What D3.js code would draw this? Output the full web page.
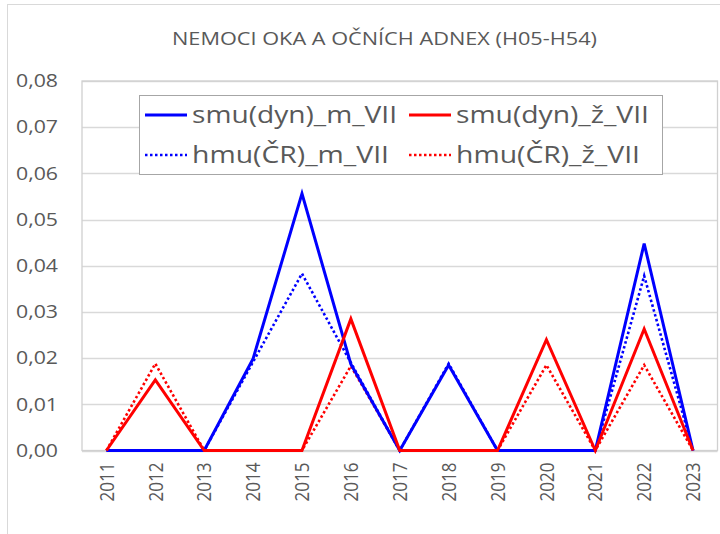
<!DOCTYPE html>
<html><head><meta charset="utf-8">
<script src="https://cdn.jsdelivr.net/npm/d3@7"></script>
<style>body{margin:0;background:#fff;}svg{display:block;}</style>
</head><body>
<svg id="c" width="720" height="534"></svg>
<script>
const years = ["2011","2012","2013","2014","2015","2016","2017","2018","2019","2020","2021","2022","2023"];
const smuM = [0, 0, 0, 0.0199, 0.0556, 0.0187, 0, 0.0185, 0, 0, 0, 0.0448, 0];
const smuZ = [0, 0.0153, 0, 0, 0, 0.0285, 0, 0, 0, 0.0240, 0, 0.0263, 0];
const hmuM = [0, 0, 0, 0.0192, 0.0383, 0.0190, 0, 0.0188, 0, 0, 0, 0.0378, 0];
const hmuZ = [0, 0.0188, 0, 0, 0, 0.0183, 0, 0, 0, 0.0185, 0, 0.0185, 0];
const yTicks = [0, 0.01, 0.02, 0.03, 0.04, 0.05, 0.06, 0.07, 0.08];
const seriesNames = ["smu(dyn)_m_VII", "smu(dyn)_ž_VII", "hmu(ČR)_m_VII", "hmu(ČR)_ž_VII"];
const title = "NEMOCI OKA A OČNÍCH ADNEX (H05-H54)";

const series = [
  {name: seriesNames[0], values: smuM, color: "#0000ff", dash: null},
  {name: seriesNames[1], values: smuZ, color: "#ff0000", dash: null},
  {name: seriesNames[2], values: hmuM, color: "#0000ff", dash: "2.5,2.5"},
  {name: seriesNames[3], values: hmuZ, color: "#ff0000", dash: "2.5,2.5"}
];
const drawOrder = [2, 3, 0, 1];

const svg = d3.select("#c");
const font = "'Open Sans', 'Liberation Sans', sans-serif";
const txt = "#595959";

// outer chart border
svg.append("rect").attr("x", 7.5).attr("y", 4.5).attr("width", 730).attr("height", 540)
  .attr("fill", "none").attr("stroke", "#d9d9d9").attr("stroke-width", 1);

const L = 82, T = 81, R = 717.5, B = 450.5;
const x = d3.scaleBand().domain(years).range([L, R]);
const y = d3.scaleLinear().domain([0, 0.08]).range([B, T]);

// gridlines
svg.append("g").selectAll("line").data(yTicks).join("line")
  .attr("x1", L).attr("x2", R)
  .attr("y1", d => Math.round(y(d)) + 0.5).attr("y2", d => Math.round(y(d)) + 0.5)
  .attr("stroke", "#d9d9d9").attr("stroke-width", 1.3);
// plot frame
svg.append("rect").attr("x", L).attr("y", T).attr("width", R - L).attr("height", B - T)
  .attr("fill", "none").attr("stroke", "#d0d0d0").attr("stroke-width", 1.3);

// y axis
const yAxis = d3.axisLeft(y).tickValues(yTicks).tickSize(0).tickPadding(24)
  .tickFormat(d => d3.format(".2f")(d).replace(".", ","));
const gy = svg.append("g").attr("transform", `translate(${L},0)`).call(yAxis);
gy.select(".domain").remove();
gy.selectAll("text").attr("font-family", font).attr("font-size", 18).attr("fill", txt)
  .attr("textLength", 42).attr("lengthAdjust", "spacingAndGlyphs");

// x axis
const xAxis = d3.axisBottom(x).tickSize(0).tickPadding(0);
const gx = svg.append("g").attr("transform", `translate(0,${B})`).call(xAxis);
gx.select(".domain").remove();
gx.selectAll("text")
  .attr("font-family", font).attr("font-size", 20).attr("fill", txt)
  .attr("transform", "rotate(-90)")
  .attr("text-anchor", "end").attr("dy", "0.36em")
  .attr("x", -12).attr("y", 0)
  .attr("textLength", 39).attr("lengthAdjust", "spacingAndGlyphs");

// lines
const line = d3.line().x((d, i) => x(years[i]) + x.bandwidth() / 2).y(d => y(d));
drawOrder.forEach(k => {
  const s = series[k];
  svg.append("path").datum(s.values).attr("d", line)
    .attr("fill", "none").attr("stroke", s.color)
    .attr("stroke-width", s.dash ? 2.6 : 3)
    .attr("stroke-dasharray", s.dash)
    .attr("stroke-linejoin", "miter");
});

// title (horizontally stretched like the reference rendering)
svg.append("text").attr("x", 384.5).attr("y", 45).attr("text-anchor", "middle")
  .attr("font-family", font).attr("font-size", 18).attr("fill", txt)
  .attr("textLength", 425).attr("lengthAdjust", "spacingAndGlyphs").text(title);

// legend
const legendWidths = [205, 193, 197, 184];
const lg = svg.append("g");
lg.append("rect").attr("x", 139.5).attr("y", 95.5).attr("width", 523).attr("height", 79)
  .attr("fill", "#fff").attr("stroke", "#a6a6a6").attr("stroke-width", 1);
const pos = [[145, 115], [409, 115], [145, 155], [409, 155]];
series.forEach((s, i) => {
  const [px, py] = pos[i];
  lg.append("line").attr("x1", px).attr("x2", px + 42).attr("y1", py).attr("y2", py)
    .attr("stroke", s.color).attr("stroke-width", s.dash ? 2.6 : 3)
    .attr("stroke-dasharray", s.dash);
  lg.append("text").attr("x", px + 47).attr("y", py).attr("dy", "0.35em")
    .attr("font-family", font).attr("font-size", 23).attr("fill", txt)
    .attr("textLength", legendWidths[i]).attr("lengthAdjust", "spacingAndGlyphs")
    .text(s.name);
});
</script>
</body></html>
